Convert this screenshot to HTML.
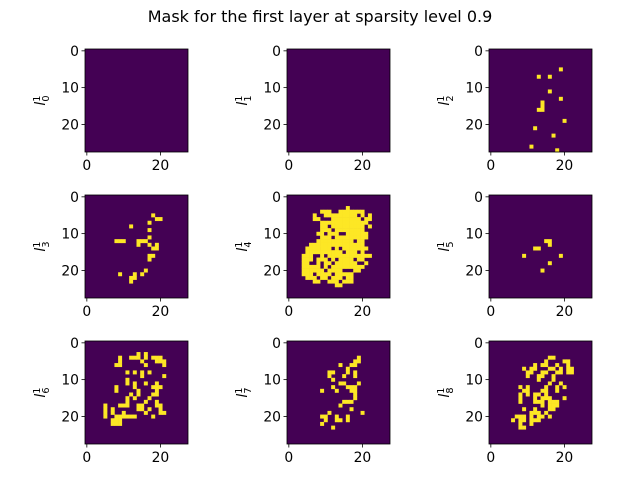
<!DOCTYPE html>
<html><head><meta charset="utf-8"><style>
body{margin:0;background:#fff}
svg{display:block;font-family:"DejaVu Sans","Liberation Sans",sans-serif}
</style></head><body>
<svg id="fig" width="640" height="480" viewBox="0 0 640 480">
<text x="320" y="22" text-anchor="middle" font-size="16" fill="#000">Mask for the first layer at sparsity level 0.9</text>
<g id="panels"></g>
</svg>
<script>
// Data: yellow (1) cells as [row, col] for each mask panel l0..l8
const xTicks = [0, 20];
const yTicks = [0, 10, 20];
const gridSize = 28;
const panelLabels = ["0","1","2","3","4","5","6","7","8"];
const mask0 = [];
const mask1 = [];
const mask2 = [[5,19],[7,13],[7,16],[11,16],[13,19],[14,14],[15,14],[16,13],[16,14],[19,20],[21,12],[23,17],[26,11],[27,18]];
const mask3 = [[5,18],[6,19],[6,20],[7,17],[8,12],[9,17],[11,17],[12,8],[12,9],[12,10],[12,14],[12,15],[12,16],[13,14],[13,17],[13,19],[14,18],[14,19],[16,17],[16,18],[17,17],[20,16],[21,15],[21,9],[21,13],[22,13],[22,12],[23,12]];
// l4 blob: per row [row, startCol, endCol, holes...]
const mask4Rows = [
 [3,16,16],[4,9,11],[4,14,20],[5,7,7],[5,10,18],[5,20,20],[5,22,22],
 [6,7,8],[6,12,19],[6,21,22],[7,9,21],[8,9,22,11,21],[9,9,20,12],
 [10,8,21,10,14,15],[11,9,21,12],[12,8,20,18],[13,6,20],[14,5,21,12,14],
 [15,5,20,15,19],[16,4,22,7,8,10],[17,4,20,7,11,13,18],[18,4,21,6,7,9,12,19,20],
 [19,4,20,9,11],[20,4,19,10,15,16,17],[21,4,17,7,12],[22,5,17,8,11,15],
 [23,7,8],[23,11,17,14],[24,13,14]
];
const mask5 = [[12,15],[12,16],[13,16],[14,12],[14,13],[16,9],[16,19],[18,16],[20,14]];
const mask6 = [[3,14],[3,16],[4,9],[4,12],[4,13],[4,14],[4,16],[4,18],[4,19],[4,20],[5,9],[5,15],[5,19],[5,20],[5,21],[6,8],[6,9],[6,16],[6,21],[8,11],[8,13],[8,15],[8,17],[9,15],[9,21],[10,11],[11,11],[11,13],[11,16],[11,19],[12,8],[12,13],[12,18],[12,19],[12,20],[13,8],[13,14],[13,19],[14,12],[14,14],[14,18],[14,19],[15,11],[15,13],[15,17],[16,11],[16,16],[16,19],[17,5],[17,9],[17,10],[17,11],[17,14],[17,15],[17,19],[17,20],[18,5],[18,7],[18,14],[18,15],[18,17],[18,20],[19,5],[19,7],[19,10],[19,16],[19,20],[19,21],[20,5],[20,8],[20,9],[20,10],[20,11],[20,12],[20,13],[20,18],[21,7],[21,8],[21,9],[22,7],[22,8],[22,9]];
const mask7 = [[4,19],[5,18],[5,19],[6,14],[6,17],[6,18],[7,16],[8,11],[8,12],[8,16],[8,18],[9,11],[9,15],[9,18],[10,12],[11,14],[11,15],[11,19],[12,12],[12,16],[12,17],[12,18],[13,9],[13,13],[13,17],[13,18],[14,18],[15,18],[16,15],[16,16],[16,17],[17,14],[18,17],[19,11],[19,20],[20,9],[20,10],[20,13],[20,16],[21,10],[21,13],[21,14],[21,16],[22,9],[23,12]];
const mask8 = [[4,16],[4,17],[5,15],[5,20],[5,21],[6,12],[6,14],[6,15],[6,18],[6,21],[7,9],[7,11],[7,12],[7,16],[7,17],[7,19],[7,21],[7,22],[8,10],[8,11],[8,14],[8,15],[8,18],[8,19],[8,21],[8,22],[9,10],[9,13],[9,14],[9,17],[10,13],[10,17],[11,16],[11,19],[12,8],[12,10],[12,15],[12,18],[12,20],[13,9],[13,10],[13,14],[13,15],[13,18],[14,8],[14,10],[14,12],[14,13],[14,15],[15,8],[15,12],[15,14],[15,15],[15,16],[15,20],[16,8],[16,12],[16,13],[16,14],[16,16],[16,17],[16,18],[17,14],[17,16],[17,17],[17,18],[18,9],[18,12],[18,16],[18,17],[19,11],[19,12],[19,13],[19,15],[20,7],[20,8],[20,9],[20,11],[20,13],[20,14],[20,16],[21,6],[21,8],[21,9],[21,11],[21,12],[21,13],[22,8],[22,11],[23,8],[23,9]];

function expandRows(rows){
  const out=[];
  rows.forEach(r=>{
    const holes=r.slice(3);
    for(let c=r[1];c<=r[2];c++){ if(holes.indexOf(c)<0) out.push([r[0],c]); }
  });
  return out;
}
const masks=[mask0,mask1,mask2,mask3,expandRows(mask4Rows),mask5,mask6,mask7,mask8];

const NS="http://www.w3.org/2000/svg";
const lefts=[85,287,489], tops=[49,195,341], SZ=103;
const g=document.getElementById('panels');
function mk(tag,attrs,parent){const e=document.createElementNS(NS,tag);for(const k in attrs)e.setAttribute(k,attrs[k]);(parent||g).appendChild(e);return e;}

masks.forEach((cells,i)=>{
  const L=lefts[i%3], T=tops[Math.floor(i/3)];
  const cell=SZ/gridSize;
  const xs=v=>L+v*cell, ys=v=>T+v*cell;
  const pg=mk('g',{});
  
  
  const bg=mk('rect',{x:L,y:T,width:SZ,height:SZ,fill:'#440154'},pg);
  
  
  cells.forEach(([r,c])=>{
    const e=mk('rect',{x:xs(c).toFixed(2),y:ys(r).toFixed(2),width:(cell+0.3).toFixed(2),height:(cell+0.3).toFixed(2),fill:'#fde725'},pg);
    
    
  });
  const fr=mk('rect',{x:L,y:T,width:SZ,height:SZ,fill:'none',stroke:'#000','stroke-width':0.8},pg);
  
  
  yTicks.forEach(v=>{
    const y=ys(v+0.5);
    mk('line',{x1:L,x2:L-3.5,y1:y,y2:y,stroke:'#000','stroke-width':0.8},pg);
    const t=mk('text',{x:L-6,y:y+5,'text-anchor':'end','font-size':13.9,fill:'#000'},pg);
    t.textContent=v;
    
    
  });
  xTicks.forEach(v=>{
    const x=xs(v+0.5);
    mk('line',{x1:x,x2:x,y1:T+SZ,y2:T+SZ+3.5,stroke:'#000','stroke-width':0.8},pg);
    const t=mk('text',{x:x,y:T+SZ+18,'text-anchor':'middle','font-size':13.9,fill:'#000'},pg);
    t.textContent=v;
    
    
  });
  const cx=L-44, cy=T+SZ/2;
  const lab=mk('text',{x:0,y:0,transform:'translate('+(cx+4)+','+cy+') rotate(-90)','text-anchor':'middle','font-size':13.9,fill:'#000'},pg);
  
  
  const t1=document.createElementNS(NS,'tspan');t1.setAttribute('font-style','italic');t1.textContent='l';lab.appendChild(t1);
  const t2=document.createElementNS(NS,'tspan');t2.setAttribute('font-size','9.7');t2.setAttribute('dy','-5');t2.textContent='1';lab.appendChild(t2);
  const t3=document.createElementNS(NS,'tspan');t3.setAttribute('font-size','9.7');t3.setAttribute('dx','-6');t3.setAttribute('dy','9');t3.textContent=panelLabels[i];lab.appendChild(t3);
});
</script>
</body></html>
